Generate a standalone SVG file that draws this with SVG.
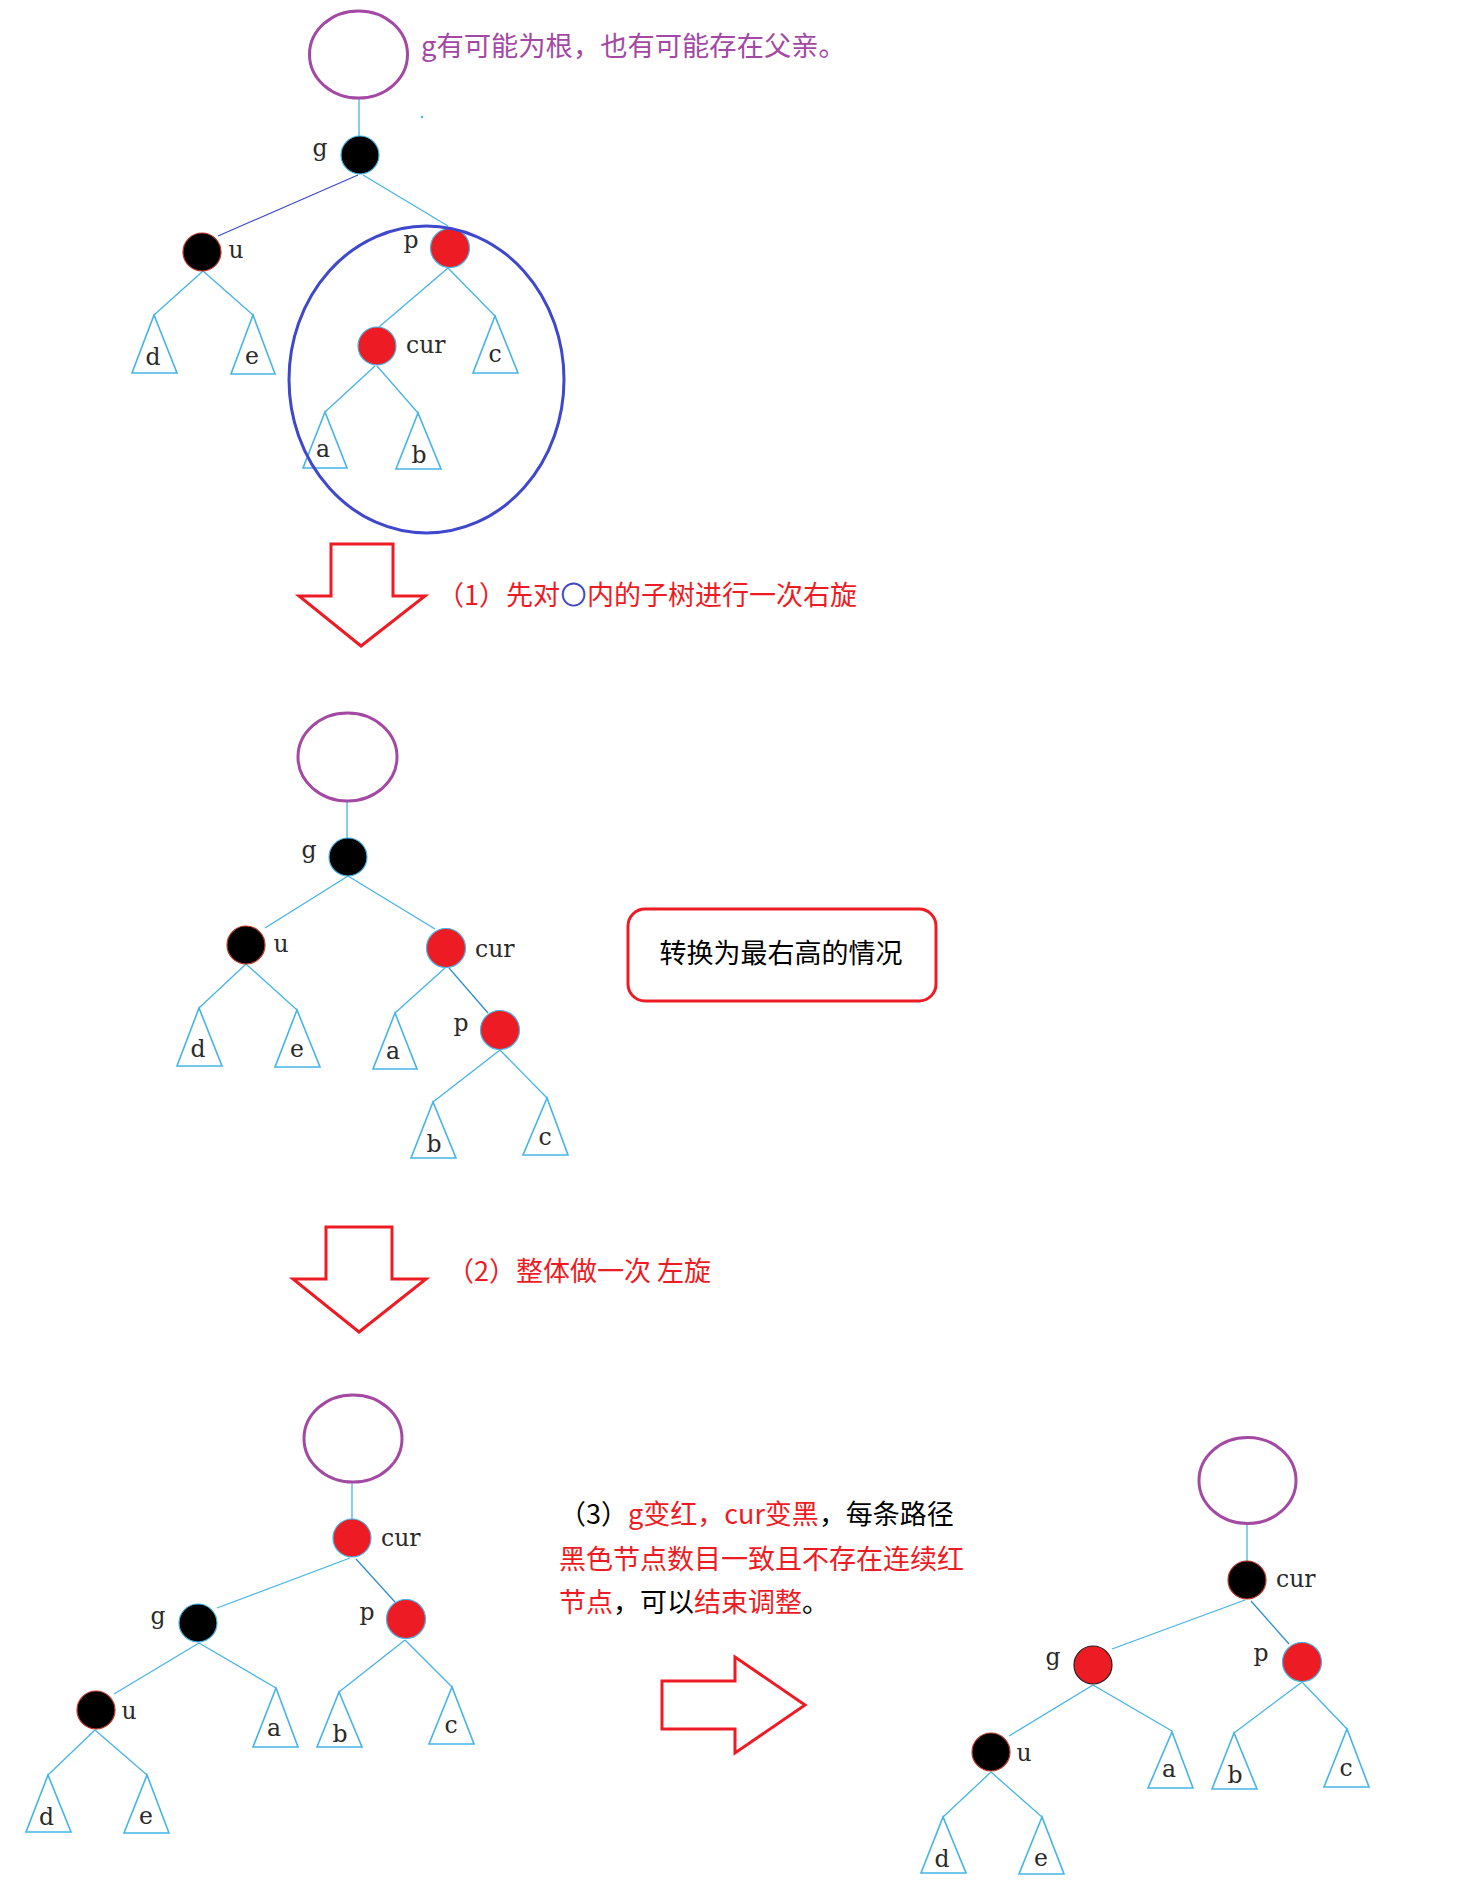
<svg xmlns="http://www.w3.org/2000/svg" width="1482" height="1897" viewBox="0 0 1482 1897">
<style>
.bg{fill:#fff}
.e{stroke:#45b4e6;stroke-width:1.3;fill:none}
.ed{stroke:#3f48cc;stroke-width:1.1;fill:none}
.tri{fill:#fff;stroke:#45b4e6;stroke-width:1.6;stroke-linejoin:miter}
.blk{fill:#000;stroke:#45b4e6;stroke-width:1.2}
.blkr{fill:#000;stroke:#c0392b;stroke-width:1.2}
.red{fill:#ed1c24;stroke:#45b4e6;stroke-width:1.2}
.redk{fill:#ed1c24;stroke:#222;stroke-width:1.2}
.par{fill:none;stroke:#a349a4;stroke-width:3}
.lbl{font-family:"DejaVu Serif","Liberation Serif",serif;font-size:23.5px;fill:#2a2a2a}
.mid{text-anchor:middle}
.cjk{font-family:"Noto Sans CJK SC","Noto Sans",sans-serif;font-size:27px}
.r{fill:#ed1c24}
.k{fill:#000}
.arrow{fill:#fff;stroke:#ed1c24;stroke-width:3;stroke-linejoin:miter}
</style>
<rect class="bg" x="0" y="0" width="1482" height="1897"/>

<g id="connectors">
  <!-- tree 1 -->
  <line class="e" x1="359" y1="98" x2="359" y2="136"/>
  <line class="ed" x1="358" y1="175" x2="218" y2="236"/>
  <line class="e" x1="363" y1="175" x2="448" y2="226"/>
  <line class="e" x1="203" y1="271" x2="154" y2="315"/>
  <line class="e" x1="203" y1="271" x2="253" y2="315"/>
  <line class="e" x1="448" y1="268" x2="379" y2="327"/>
  <line class="e" x1="448" y1="268" x2="495" y2="316"/>
  <line class="e" x1="375" y1="366" x2="325" y2="412"/>
  <line class="e" x1="377" y1="366" x2="418" y2="413"/>
  <!-- tree 2 -->
  <line class="e" x1="347" y1="801" x2="347" y2="838"/>
  <line class="e" x1="348" y1="876" x2="265" y2="928"/>
  <line class="e" x1="348" y1="876" x2="435" y2="929"/>
  <line class="e" x1="246" y1="964" x2="199" y2="1008"/>
  <line class="e" x1="246" y1="964" x2="297" y2="1010"/>
  <line class="e" x1="445" y1="968" x2="395" y2="1013"/>
  <line class="e" x1="449" y1="968" x2="488" y2="1013" style="stroke:#2f8fd0"/>
  <line class="e" x1="500" y1="1050" x2="433" y2="1102"/>
  <line class="e" x1="500" y1="1050" x2="547" y2="1098"/>
  <!-- tree 3 -->
  <line class="e" x1="352" y1="1482" x2="352" y2="1519"/>
  <line class="e" x1="350" y1="1558" x2="217" y2="1608"/>
  <line class="e" x1="356" y1="1559" x2="395" y2="1602" style="stroke:#2f8fd0"/>
  <line class="e" x1="199" y1="1643" x2="114" y2="1694"/>
  <line class="e" x1="199" y1="1643" x2="276" y2="1688"/>
  <line class="e" x1="405" y1="1640" x2="339" y2="1692"/>
  <line class="e" x1="405" y1="1640" x2="452" y2="1687"/>
  <line class="e" x1="95" y1="1730" x2="48" y2="1775"/>
  <line class="e" x1="95" y1="1730" x2="147" y2="1775"/>
  <!-- tree 4 -->
  <line class="e" x1="1247" y1="1524" x2="1247" y2="1561"/>
  <line class="e" x1="1245" y1="1600" x2="1112" y2="1649"/>
  <line class="e" x1="1251" y1="1601" x2="1289" y2="1644" style="stroke:#2f8fd0"/>
  <line class="e" x1="1093" y1="1685" x2="1009" y2="1736"/>
  <line class="e" x1="1093" y1="1685" x2="1172" y2="1731"/>
  <line class="e" x1="1302" y1="1682" x2="1234" y2="1733"/>
  <line class="e" x1="1302" y1="1682" x2="1347" y2="1729"/>
  <line class="e" x1="991" y1="1772" x2="943" y2="1817"/>
  <line class="e" x1="991" y1="1772" x2="1042" y2="1817"/>
</g>

<!-- tree 1 nodes -->
<g id="t1-parent"><ellipse class="par" cx="358.5" cy="54.5" rx="49" ry="43.5"/></g>
<g id="t1-note"><text class="cjk" x="421" y="56" style="font-size:27.3px;fill:#a349a4">g有可能为根，也有可能存在父亲。</text></g>
<g id="t1-dot"><circle cx="422" cy="117" r="1.2" fill="#45b4e6"/></g>
<g id="t1-g"><circle class="blk" cx="360" cy="155" r="19"/><text class="lbl mid" x="320" y="156">g</text></g>
<g id="t1-u"><circle class="blkr" cx="202" cy="252" r="19"/><text class="lbl mid" x="236" y="258">u</text></g>
<g id="t1-p"><circle class="red" cx="450" cy="248" r="19.5"/><text class="lbl mid" x="411" y="248">p</text></g>
<g id="t1-cur"><circle class="red" cx="377" cy="346" r="19"/><text class="lbl" x="406" y="353">cur</text></g>
<g id="t1-d"><path class="tri" d="M154,315 L132,373 L177,373 Z"/><text class="lbl mid" x="153" y="365">d</text></g>
<g id="t1-e"><path class="tri" d="M253,315 L231,374 L275,374 Z"/><text class="lbl mid" x="252" y="364">e</text></g>
<g id="t1-c"><path class="tri" d="M495,316 L473,373 L518,373 Z"/><text class="lbl mid" x="495" y="362">c</text></g>
<g id="t1-a"><path class="tri" d="M325,412 L303,468 L347,468 Z"/><text class="lbl mid" x="323" y="457">a</text></g>
<g id="t1-b"><path class="tri" d="M418,413 L396,469 L441,469 Z"/><text class="lbl mid" x="419" y="463">b</text></g>
<g id="t1-circle"><ellipse cx="426.5" cy="379.5" rx="137.5" ry="153.5" fill="none" stroke="#3f48cc" stroke-width="3"/></g>

<!-- arrow 1 -->
<g id="arrow1"><polygon class="arrow" points="331,544 393,544 393,596 425,596 361,646 299,596 331,596"/></g>
<g id="step1"><text class="cjk r" x="437" y="605">（1）先对<tspan fill="#3f48cc" stroke="#3f48cc" stroke-width="0.9" font-size="25px" dx="1" dy="-1.5">○</tspan><tspan dx="1" dy="1.5">内的子树进行一次右旋</tspan></text></g>

<!-- tree 2 nodes -->
<g id="t2-parent"><ellipse class="par" cx="347.5" cy="757" rx="49.5" ry="44"/></g>
<g id="t2-g"><circle class="blk" cx="348" cy="857" r="19"/><text class="lbl mid" x="309" y="858">g</text></g>
<g id="t2-u"><circle class="blkr" cx="246" cy="945" r="19"/><text class="lbl mid" x="281" y="952">u</text></g>
<g id="t2-cur"><circle class="red" cx="446" cy="948" r="19.5"/><text class="lbl" x="475" y="957">cur</text></g>
<g id="t2-p"><circle class="red" cx="500" cy="1030" r="19.5"/><text class="lbl mid" x="461" y="1031">p</text></g>
<g id="t2-d"><path class="tri" d="M199,1008 L177,1066 L222,1066 Z"/><text class="lbl mid" x="198" y="1057">d</text></g>
<g id="t2-e"><path class="tri" d="M297,1010 L275,1067 L320,1067 Z"/><text class="lbl mid" x="297" y="1057">e</text></g>
<g id="t2-a"><path class="tri" d="M395,1013 L373,1069 L417,1069 Z"/><text class="lbl mid" x="393" y="1059">a</text></g>
<g id="t2-b"><path class="tri" d="M433,1102 L411,1158 L456,1158 Z"/><text class="lbl mid" x="434" y="1152">b</text></g>
<g id="t2-c"><path class="tri" d="M547,1098 L523,1155 L568,1155 Z"/><text class="lbl mid" x="545" y="1145">c</text></g>

<!-- box -->
<g id="note-box"><rect x="628" y="909" width="308" height="92" rx="17" ry="17" fill="#fff" stroke="#ed1c24" stroke-width="3"/><text class="cjk k" x="781" y="963" text-anchor="middle">转换为最右高的情况</text></g>

<!-- arrow 2 -->
<g id="arrow2"><polygon class="arrow" points="326,1227 392,1227 392,1279 426,1279 359,1332 293,1279 326,1279"/></g>
<g id="step2"><text class="cjk r" x="447" y="1281">（2）整体做一次 左旋</text></g>

<!-- tree 3 nodes -->
<g id="t3-parent"><ellipse class="par" cx="353" cy="1438.5" rx="49" ry="43.5"/></g>
<g id="t3-cur"><circle class="red" cx="352" cy="1538" r="19"/><text class="lbl" x="381" y="1546">cur</text></g>
<g id="t3-g"><circle class="blk" cx="198" cy="1623" r="19"/><text class="lbl mid" x="158" y="1624">g</text></g>
<g id="t3-p"><circle class="red" cx="406" cy="1619" r="19.5"/><text class="lbl mid" x="367" y="1620">p</text></g>
<g id="t3-u"><circle class="blkr" cx="96" cy="1710" r="19"/><text class="lbl mid" x="129" y="1719">u</text></g>
<g id="t3-a"><path class="tri" d="M276,1688 L253,1747 L298,1747 Z"/><text class="lbl mid" x="274" y="1736">a</text></g>
<g id="t3-b"><path class="tri" d="M339,1692 L317,1747 L362,1747 Z"/><text class="lbl mid" x="340" y="1742">b</text></g>
<g id="t3-c"><path class="tri" d="M452,1687 L429,1744 L474,1744 Z"/><text class="lbl mid" x="451" y="1733">c</text></g>
<g id="t3-d"><path class="tri" d="M48,1775 L26,1832 L71,1832 Z"/><text class="lbl mid" x="46.5" y="1825">d</text></g>
<g id="t3-e"><path class="tri" d="M147,1775 L124,1833 L169,1833 Z"/><text class="lbl mid" x="146" y="1824">e</text></g>

<!-- step 3 text -->
<g id="step3">
  <text class="cjk" x="559" y="1524"><tspan class="k">（3）</tspan><tspan class="r">g变红，cur变黑</tspan><tspan class="k">，每条路径</tspan></text>
  <text class="cjk r" x="559" y="1569">黑色节点数目一致且不存在连续红</text>
  <text class="cjk" x="559" y="1612"><tspan class="r">节点</tspan><tspan class="k">，可以</tspan><tspan class="r">结束调整</tspan><tspan class="k">。</tspan></text>
</g>

<!-- arrow 3 -->
<g id="arrow3"><polygon class="arrow" points="662,1681 735,1681 735,1657 805,1705 735,1753 735,1729 662,1729"/></g>

<!-- tree 4 nodes -->
<g id="t4-parent"><ellipse class="par" cx="1247.5" cy="1480.5" rx="48.5" ry="43"/></g>
<g id="t4-cur"><circle class="blkr" cx="1247" cy="1580" r="19"/><text class="lbl" x="1276" y="1587">cur</text></g>
<g id="t4-g"><circle class="redk" cx="1093" cy="1665" r="19"/><text class="lbl mid" x="1053" y="1665">g</text></g>
<g id="t4-p"><circle class="red" cx="1302" cy="1662" r="19.5"/><text class="lbl mid" x="1261" y="1661">p</text></g>
<g id="t4-u"><circle class="blkr" cx="991" cy="1752" r="19"/><text class="lbl mid" x="1024" y="1761">u</text></g>
<g id="t4-a"><path class="tri" d="M1172,1732 L1148,1788 L1193,1788 Z"/><text class="lbl mid" x="1169" y="1777">a</text></g>
<g id="t4-b"><path class="tri" d="M1234,1733 L1212,1789 L1257,1789 Z"/><text class="lbl mid" x="1235" y="1783">b</text></g>
<g id="t4-c"><path class="tri" d="M1347,1729 L1324,1787 L1369,1787 Z"/><text class="lbl mid" x="1346" y="1776">c</text></g>
<g id="t4-d"><path class="tri" d="M943,1817 L921,1873 L966,1873 Z"/><text class="lbl mid" x="942" y="1867">d</text></g>
<g id="t4-e"><path class="tri" d="M1042,1817 L1019,1874 L1064,1874 Z"/><text class="lbl mid" x="1041" y="1866">e</text></g>
</svg>
